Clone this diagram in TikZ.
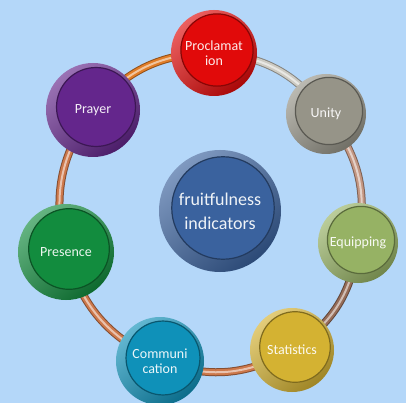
\documentclass[tikz,border=0pt]{standalone}
\usepackage{fontspec}
\setmainfont{Carlito}
\usetikzlibrary{calc}
\pgfdeclarelayer{bg}
\pgfdeclarelayer{mid}
\pgfsetlayers{bg,mid,main}
\definecolor{bgblue}{RGB}{180,215,249}
\definecolor{cRed}{RGB}{225,10,10}
\definecolor{cGrey}{RGB}{150,148,136}
\definecolor{cLime}{RGB}{150,178,100}
\definecolor{cGold}{RGB}{212,178,50}
\definecolor{cTeal}{RGB}{15,145,185}
\definecolor{cGreen}{RGB}{18,140,62}
\definecolor{cPurple}{RGB}{100,38,140}
\definecolor{cBlue}{RGB}{58,98,158}
\definecolor{tSilver}{RGB}{205,203,195}
\definecolor{tRose}{RGB}{195,150,130}
\definecolor{tBrown}{RGB}{150,108,88}
\definecolor{tCopper}{RGB}{205,120,75}
\definecolor{tOrange}{RGB}{225,125,40}
\tikzset{
  btn/.style 2 args={circle, minimum size=#1pt, inner sep=0pt, align=center,
    text=white!92!#2, font=\fontsize{14}{15}\selectfont,
    left color=#2!65!white, right color=#2!75!black, shading angle=40,
    path picture={\fill[#2, draw=#2!60!black, line width=1.2pt]
      ($(path picture bounding box.center)+(3,-3)$) circle ({0.42*#1*1pt});}},
  tube/.style={line width=8pt, #1!65!black},
  tubemid/.style={line width=6pt, #1},
  tubehl/.style={line width=2pt, #1!45!white}
}
\newcommand{\tubelink}[3]{%
  \draw[tube=#3] (#1) to[bend left=25] (#2);
  \draw[tubemid=#3] (#1) to[bend left=25] (#2);
  \draw[tubehl=#3] (#1) to[bend left=25] (#2);}
\begin{document}
\begin{tikzpicture}[x=1pt,y=-1pt]
\begin{pgfonlayer}{bg}
\fill[bgblue] (0,0) rectangle (406,403);
\end{pgfonlayer}
\useasboundingbox (0,0) rectangle (406,403);
\node[btn={86}{cRed}] (proc) at (214,53) {Proclamat\\ion};
\node[btn={80}{cGrey}] (unity) at (326,114) {Unity};
\node[btn={80}{cLime}] (equip) at (358,243) {Equipping};
\node[btn={84}{cGold}] (stat) at (292,350) {Statistics};
\node[btn={88}{cTeal}] (comm) at (160,361) {Communi\\cation};
\node[btn={96}{cGreen}] (pres) at (66,252) {Presence};
\node[btn={94}{cPurple}] (pray) at (93,110) {Prayer};
\node[btn={122}{cBlue}, font=\fontsize{18}{24}\selectfont] (fruit) at (220,211) {fruitfulness\\indicators};
\begin{pgfonlayer}{mid}
\tubelink{proc.center}{unity.center}{tSilver}
\tubelink{unity.center}{equip.center}{tRose}
\tubelink{equip.center}{stat.center}{tBrown}
\tubelink{stat.center}{comm.center}{tCopper}
\tubelink{comm.center}{pres.center}{tCopper}
\tubelink{pres.center}{pray.center}{tCopper}
\tubelink{pray.center}{proc.center}{tOrange}
\end{pgfonlayer}
\end{tikzpicture}
\end{document}
